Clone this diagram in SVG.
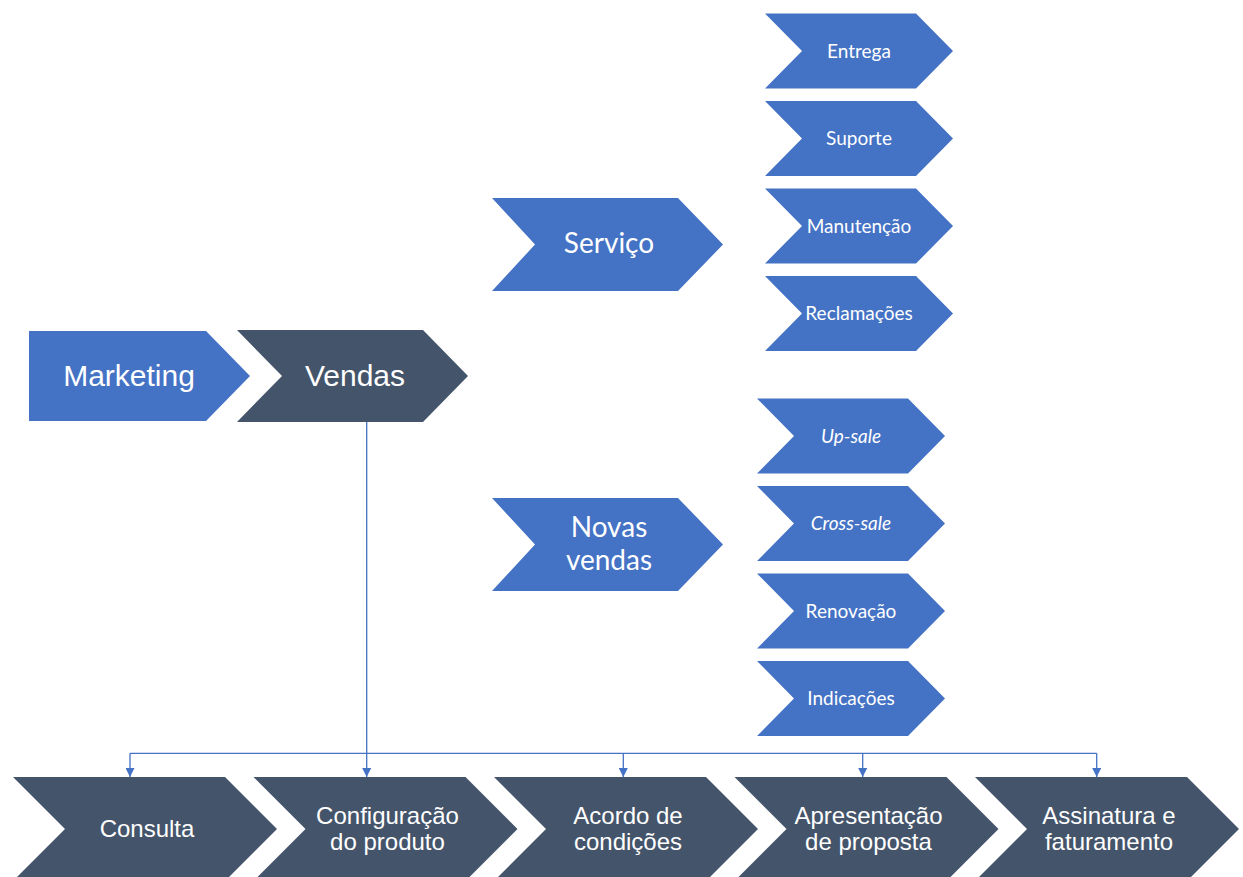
<svg xmlns="http://www.w3.org/2000/svg" width="1243" height="877" viewBox="0 0 1243 877">
  <defs>
    <style>
      .blue { fill: #4472C4; }
      .dark { fill: #44546A; }
      .lbl-arial { font-family: "Liberation Sans", Arial, sans-serif; fill: #FFFFFF; text-anchor: middle; }
      .lbl-cal { font-family: Lato, "Open Sans", sans-serif; fill: #FFFFFF; text-anchor: middle; }
      .big { font-size: 30px; }
      .mid { font-size: 28px; }
      .row { font-size: 24px; }
      .small { font-size: 19px; }
      .it { font-style: italic; }
      .link { fill: none; stroke: #4472C4; stroke-width: 1.3; }
    </style>
    <marker id="arrow" viewBox="0 0 10 10" refX="10" refY="5" markerWidth="9" markerHeight="9" markerUnits="userSpaceOnUse" orient="auto">
      <path d="M0,0 L10,5 L0,10 Z" fill="#4472C4"/>
    </marker>
  </defs>

  <rect width="1243" height="877" fill="#FFFFFF"/>

  <!-- top level -->
  <g id="marketing">
    <polygon class="blue" points="29,331 206,331 250,376 206,421 29,421"/>
    <text class="lbl-arial big" x="129" y="386">Marketing</text>
  </g>
  <g id="vendas">
    <polygon class="dark" points="237,330 423,330 468,376 423,422 237,422 282,376"/>
    <text class="lbl-arial big" x="355" y="386">Vendas</text>
  </g>

  <!-- branches -->
  <g id="servico">
    <polygon class="blue" points="492,198 678,198 723,244.5 678,291 492,291 535,244.5"/>
    <text class="lbl-cal mid" x="609" y="253">Serviço</text>
  </g>
  <g id="novas-vendas">
    <polygon class="blue" points="492,498 678,498 723,544.5 678,591 492,591 535,544.5"/>
    <text class="lbl-cal mid" x="609" y="537">Novas</text>
    <text class="lbl-cal mid" x="609" y="570">vendas</text>
  </g>

  <!-- service items -->
  <g id="entrega">
    <polygon class="blue" points="765,13.5 916,13.5 953,51 916,88.5 765,88.5 802,51"/>
    <text class="lbl-cal small" x="859" y="57.5">Entrega</text>
  </g>
  <g id="suporte">
    <polygon class="blue" points="765,101 916,101 953,138.5 916,176 765,176 802,138.5"/>
    <text class="lbl-cal small" x="859" y="145">Suporte</text>
  </g>
  <g id="manutencao">
    <polygon class="blue" points="765,188.5 916,188.5 953,226 916,263.5 765,263.5 802,226"/>
    <text class="lbl-cal small" x="859" y="232.5">Manutenção</text>
  </g>
  <g id="reclamacoes">
    <polygon class="blue" points="765,276 916,276 953,313.5 916,351 765,351 802,313.5"/>
    <text class="lbl-cal small" x="859" y="320">Reclamações</text>
  </g>

  <!-- new sales items -->
  <g id="up-sale">
    <polygon class="blue" points="757,398.5 908,398.5 945,436 908,473.5 757,473.5 794,436"/>
    <text class="lbl-cal small it" x="851" y="442.5">Up-sale</text>
  </g>
  <g id="cross-sale">
    <polygon class="blue" points="757,486 908,486 945,523.5 908,561 757,561 794,523.5"/>
    <text class="lbl-cal small it" x="851" y="530">Cross-sale</text>
  </g>
  <g id="renovacao">
    <polygon class="blue" points="757,573.5 908,573.5 945,611 908,648.5 757,648.5 794,611"/>
    <text class="lbl-cal small" x="851" y="617.5">Renovação</text>
  </g>
  <g id="indicacoes">
    <polygon class="blue" points="757,661 908,661 945,698.5 908,736 757,736 794,698.5"/>
    <text class="lbl-cal small" x="851" y="705">Indicações</text>
  </g>

  <!-- sales steps -->
  <g id="consulta">
    <polygon class="dark" points="13,777 225,777 277,829 225,881 13,881 65,829"/>
    <text class="lbl-arial row" x="147" y="837">Consulta</text>
  </g>
  <g id="configuracao">
    <polygon class="dark" points="253.5,777 465.5,777 517.5,829 465.5,881 253.5,881 305.5,829"/>
    <text class="lbl-arial row" x="387.5" y="824">Configuração</text>
    <text class="lbl-arial row" x="387.5" y="850">do produto</text>
  </g>
  <g id="acordo">
    <polygon class="dark" points="494,777 706,777 758,829 706,881 494,881 546,829"/>
    <text class="lbl-arial row" x="628" y="824">Acordo de</text>
    <text class="lbl-arial row" x="628" y="850">condições</text>
  </g>
  <g id="apresentacao">
    <polygon class="dark" points="734.5,777 946.5,777 998.5,829 946.5,881 734.5,881 786.5,829"/>
    <text class="lbl-arial row" x="868.5" y="824">Apresentação</text>
    <text class="lbl-arial row" x="868.5" y="850">de proposta</text>
  </g>
  <g id="assinatura">
    <polygon class="dark" points="975,777 1187,777 1239,829 1187,881 975,881 1027,829"/>
    <text class="lbl-arial row" x="1109" y="824">Assinatura e</text>
    <text class="lbl-arial row" x="1109" y="850">faturamento</text>
  </g>

  <!-- connectors -->
  <g id="connectors">
    <path class="link" d="M366.7,422 V753.3"/>
    <path class="link" d="M130,753.3 H1096.7"/>
    <path class="link" d="M130,753.3 V777" marker-end="url(#arrow)"/>
    <path class="link" d="M366.7,753.3 V777" marker-end="url(#arrow)"/>
    <path class="link" d="M623.3,753.3 V777" marker-end="url(#arrow)"/>
    <path class="link" d="M862.7,753.3 V777" marker-end="url(#arrow)"/>
    <path class="link" d="M1096.7,753.3 V777" marker-end="url(#arrow)"/>
  </g>
</svg>
